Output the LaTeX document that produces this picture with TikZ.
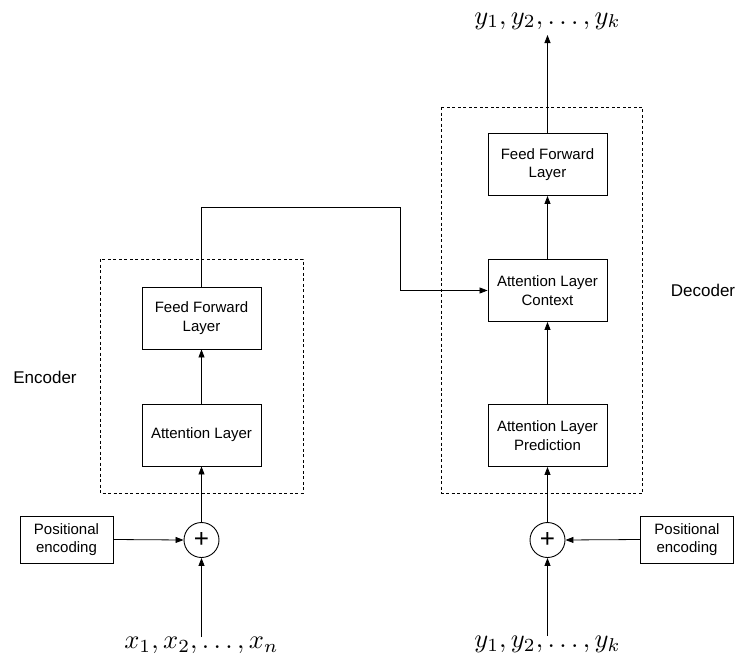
\documentclass[tikz,border=0pt]{standalone}
\usepackage{fontspec}
\setmainfont{Liberation Sans}
\usetikzlibrary{arrows.meta}
\begin{document}
\begin{tikzpicture}[x=1pt,y=-1pt,
  box/.style={draw, line width=0.9pt, minimum width=119pt, minimum height=62pt, align=center, font=\fontsize{15}{18.3}\selectfont, inner sep=0pt},
  posbox/.style={draw, line width=0.9pt, minimum width=93pt, minimum height=47pt, align=center, font=\fontsize{15}{18.3}\selectfont, inner sep=0pt},
  sumnode/.style={draw, circle, line width=0.9pt, minimum size=35pt, inner sep=0pt, font=\fontsize{26}{26}\selectfont},
  group/.style={draw, dash pattern=on 3pt off 2.5pt, line width=0.8pt},
  arr/.style={-{Triangle[length=8pt,width=6pt]}, line width=0.8pt},
  seq/.style={inner sep=0pt, scale=2.65},
  lbl/.style={font=\fontsize{17}{20}\selectfont}
]
\useasboundingbox[fill=white] (0,0) rectangle (740,662);

% dashed groups
\draw[group] (100,259) rectangle (303,493);
\draw[group] (441.5,107) rectangle (642.5,493);

% encoder
\node[box] (encFF) at (201.5,318) {Feed Forward\\Layer};
\node[box] (encAtt) at (201.5,435) {Attention Layer};
\node[sumnode] (encPlus) at (201.5,540) {+};
\node[posbox] (encPos) at (66.5,539.5) {Positional\\encoding};
\node[seq, anchor=north] (encX) at (201.5,637) {$x_1,x_2,\ldots,x_n$};
\node[lbl] (encLbl) at (45,377) {Encoder};

% decoder
\node[box] (decFF) at (547.5,164.5) {Feed Forward\\Layer};
\node[box] (decAC) at (547.5,290.5) {Attention Layer\\Context};
\node[box] (decAP) at (547.5,435.5) {Attention Layer\\Prediction};
\node[sumnode] (decPlus) at (547.5,540) {+};
\node[posbox] (decPos) at (687,539.5) {Positional\\encoding};
\node[seq, anchor=north] (decYin) at (547.5,636) {$y_1,y_2,\ldots,y_k$};
\node[seq, anchor=south, inner sep=2pt] (decYout) at (547.5,35) {$y_1,y_2,\ldots,y_k$};
\node[lbl] (decLbl) at (703,290) {Decoder};

% encoder connectors
\draw[arr] (encX.north) -- (encPlus.south);
\draw[arr] (encPos.east) -- (encPlus.west);
\draw[arr] (encPlus.north) -- (encAtt.south);
\draw[arr] (encAtt.north) -- (encFF.south);
\coordinate (c1) at (201.5,207);
\coordinate (c2) at (400,207);
\draw[arr] (encFF.north) -- (c1) -- (c2) |- (decAC.west);

% decoder connectors
\draw[arr] (decYin.north) -- (decPlus.south);
\draw[arr] (decPos.west) -- (decPlus.east);
\draw[arr] (decPlus.north) -- (decAP.south);
\draw[arr] (decAP.north) -- (decAC.south);
\draw[arr] (decAC.north) -- (decFF.south);
\draw[arr] (decFF.north) -- (decYout.south);
\end{tikzpicture}
\end{document}
